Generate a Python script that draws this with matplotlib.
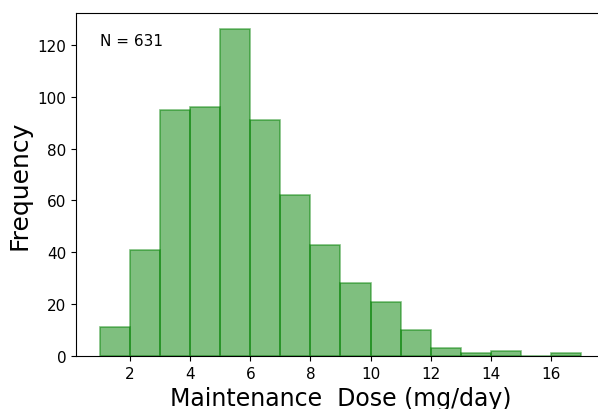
import numpy as np
import matplotlib
matplotlib.use('Agg')
import matplotlib.pyplot as plt

# Histogram bins (mg/day) and counts
bin_edges = [1, 2, 3, 4, 5, 6, 7, 8, 9, 10, 11, 12, 13, 14, 15, 16, 17]
counts = [11, 41, 95, 96, 126, 91, 62, 43, 28, 21, 10, 3, 1, 2, 0, 1]
n_total = 631

fig = plt.figure(figsize=(5.98, 4.10), dpi=100)
# axes run past the right edge and the label is cut at the bottom, like the reference
ax = fig.add_axes([76/598, 53/410, 529/598, 343/410])

ax.hist(bin_edges[:-1], bins=bin_edges, weights=counts,
        color='green', alpha=0.5, edgecolor='green', linewidth=1.2)

ax.set_ylim(0, max(counts) * 1.05)
ax.set_xticks([2, 4, 6, 8, 10, 12, 14, 16])
ax.set_yticks([0, 20, 40, 60, 80, 100, 120])
ax.tick_params(labelsize=11)

ax.set_xlabel('Maintenance  Dose (mg/day)', fontsize=17)
ax.set_ylabel('Frequency', fontsize=18)
ax.text(0.045, 0.92, 'N = %d' % n_total, transform=ax.transAxes, fontsize=11,
        va='center', ha='left')

plt.savefig('out.png', dpi=100)
plt.close()
